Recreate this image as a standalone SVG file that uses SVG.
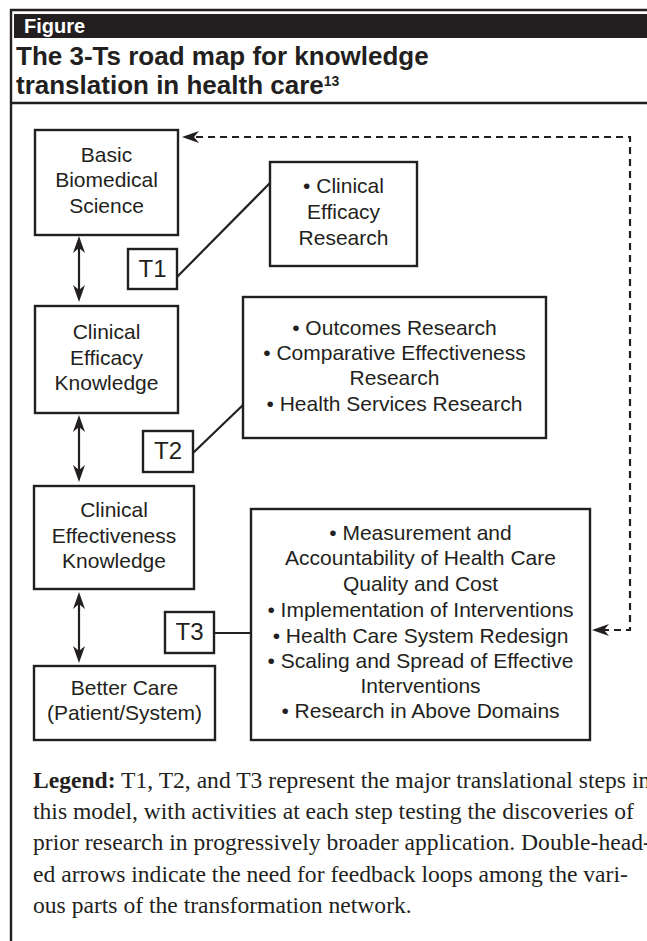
<svg xmlns="http://www.w3.org/2000/svg" width="647" height="941" viewBox="0 0 647 941">
<defs>
<style>
.frame{fill:none;stroke:#231f20;stroke-width:2.4}
.box{fill:#fff;stroke:#231f20;stroke-width:2.4}
.t{font-family:"Liberation Sans",Arial,sans-serif;font-size:21px;fill:#231f20;text-anchor:middle}
.tl{font-family:"Liberation Sans",Arial,sans-serif;font-size:24px;fill:#231f20;text-anchor:middle}
.conn{fill:none;stroke:#231f20;stroke-width:2.2}
.dash{fill:none;stroke:#231f20;stroke-width:2.2;stroke-dasharray:7 5}
.leg{font-family:"Liberation Serif","Times New Roman",serif;font-size:23.6px;fill:#231f20}
.title{font-family:"Liberation Sans",Arial,sans-serif;font-size:26px;font-weight:bold;fill:#231f20}
</style>
<marker id="ah" viewBox="-18 -7 20 14" refX="-10" refY="0" markerWidth="20" markerHeight="14" markerUnits="userSpaceOnUse" orient="auto-start-reverse">
<path d="M0,0 L-17,-6 L-12,0 L-17,6 Z" fill="#231f20"/>
</marker>
</defs>

<g id="frame">
<line class="frame" x1="10" y1="10" x2="647" y2="10"/>
<line class="frame" x1="11" y1="9" x2="11" y2="941"/>
<rect x="14" y="14" width="633" height="24" fill="#231f20"/>
<text x="24" y="33" font-family="Liberation Sans, Arial, sans-serif" font-size="20" font-weight="bold" fill="#fff">Figure</text>
<text class="title" x="16" y="65">The 3-Ts road map for knowledge</text>
<text class="title" x="16" y="94">translation in health care<tspan font-size="14" dy="-8">13</tspan></text>
<line class="frame" x1="10" y1="103" x2="647" y2="103"/>
</g>

<g id="connectors">
<path class="conn" d="M177,277 L270,183"/>
<path class="conn" d="M193,453 L243,405"/>
<path class="conn" d="M214,633 H251"/>
<line class="conn" x1="79" y1="246" x2="79" y2="292" marker-start="url(#ah)" marker-end="url(#ah)"/>
<line class="conn" x1="79" y1="425" x2="79" y2="472" marker-start="url(#ah)" marker-end="url(#ah)"/>
<line class="conn" x1="79" y1="602" x2="79" y2="653" marker-start="url(#ah)" marker-end="url(#ah)"/>
<path class="dash" d="M602,630 H630 V137 H192" marker-start="url(#ah)" marker-end="url(#ah)"/>
</g>

<g id="basic">
<rect class="box" x="35" y="130" width="143" height="105"/>
<text class="t" x="106.5" y="162">Basic</text>
<text class="t" x="106.5" y="187">Biomedical</text>
<text class="t" x="106.5" y="213">Science</text>
</g>

<g id="cer">
<rect class="box" x="270" y="162" width="147" height="104"/>
<text class="t" x="343.5" y="193">• Clinical</text>
<text class="t" x="343.5" y="219">Efficacy</text>
<text class="t" x="343.5" y="245">Research</text>
</g>

<g id="t1">
<rect class="box" x="128" y="249" width="49" height="40"/>
<text class="tl" x="152.5" y="277">T1</text>
</g>

<g id="cek">
<rect class="box" x="35" y="306" width="143" height="107"/>
<text class="t" x="106.5" y="339">Clinical</text>
<text class="t" x="106.5" y="365">Efficacy</text>
<text class="t" x="106.5" y="390">Knowledge</text>
</g>

<g id="outcomes">
<rect class="box" x="243" y="297" width="303" height="141"/>
<text class="t" x="394.5" y="335">• Outcomes Research</text>
<text class="t" x="394.5" y="360">• Comparative Effectiveness</text>
<text class="t" x="394.5" y="385">Research</text>
<text class="t" x="394.5" y="411">• Health Services Research</text>
</g>

<g id="t2">
<rect class="box" x="143" y="431" width="50" height="41"/>
<text class="tl" x="168" y="459">T2</text>
</g>

<g id="ceffk">
<rect class="box" x="34" y="486" width="160" height="103"/>
<text class="t" x="114" y="517">Clinical</text>
<text class="t" x="114" y="543">Effectiveness</text>
<text class="t" x="114" y="568">Knowledge</text>
</g>

<g id="better">
<rect class="box" x="34" y="666" width="181" height="74"/>
<text class="t" x="124.5" y="695">Better Care</text>
<text class="t" x="124.5" y="720">(Patient/System)</text>
</g>

<g id="t3">
<rect class="box" x="165" y="612" width="49" height="41"/>
<text class="tl" x="189.5" y="640">T3</text>
</g>

<g id="t3box">
<rect class="box" x="251" y="509" width="339" height="231"/>
<text class="t" x="420.5" y="540">• Measurement and</text>
<text class="t" x="420.5" y="565">Accountability of Health Care</text>
<text class="t" x="420.5" y="591">Quality and Cost</text>
<text class="t" x="420.5" y="617">• Implementation of Interventions</text>
<text class="t" x="420.5" y="643">• Health Care System Redesign</text>
<text class="t" x="420.5" y="668">• Scaling and Spread of Effective</text>
<text class="t" x="420.5" y="693">Interventions</text>
<text class="t" x="420.5" y="718">• Research in Above Domains</text>
</g>

<g id="legend">
<text class="leg" x="33" y="788"><tspan font-weight="bold">Legend:</tspan> T1, T2, and T3 represent the major translational steps in</text>
<text class="leg" x="33" y="819">this model, with activities at each step testing the discoveries of</text>
<text class="leg" x="33" y="850">prior research in progressively broader application. Double-head-</text>
<text class="leg" x="33" y="882">ed arrows indicate the need for feedback loops among the vari-</text>
<text class="leg" x="33" y="913">ous parts of the transformation network.</text>
</g>
</svg>
